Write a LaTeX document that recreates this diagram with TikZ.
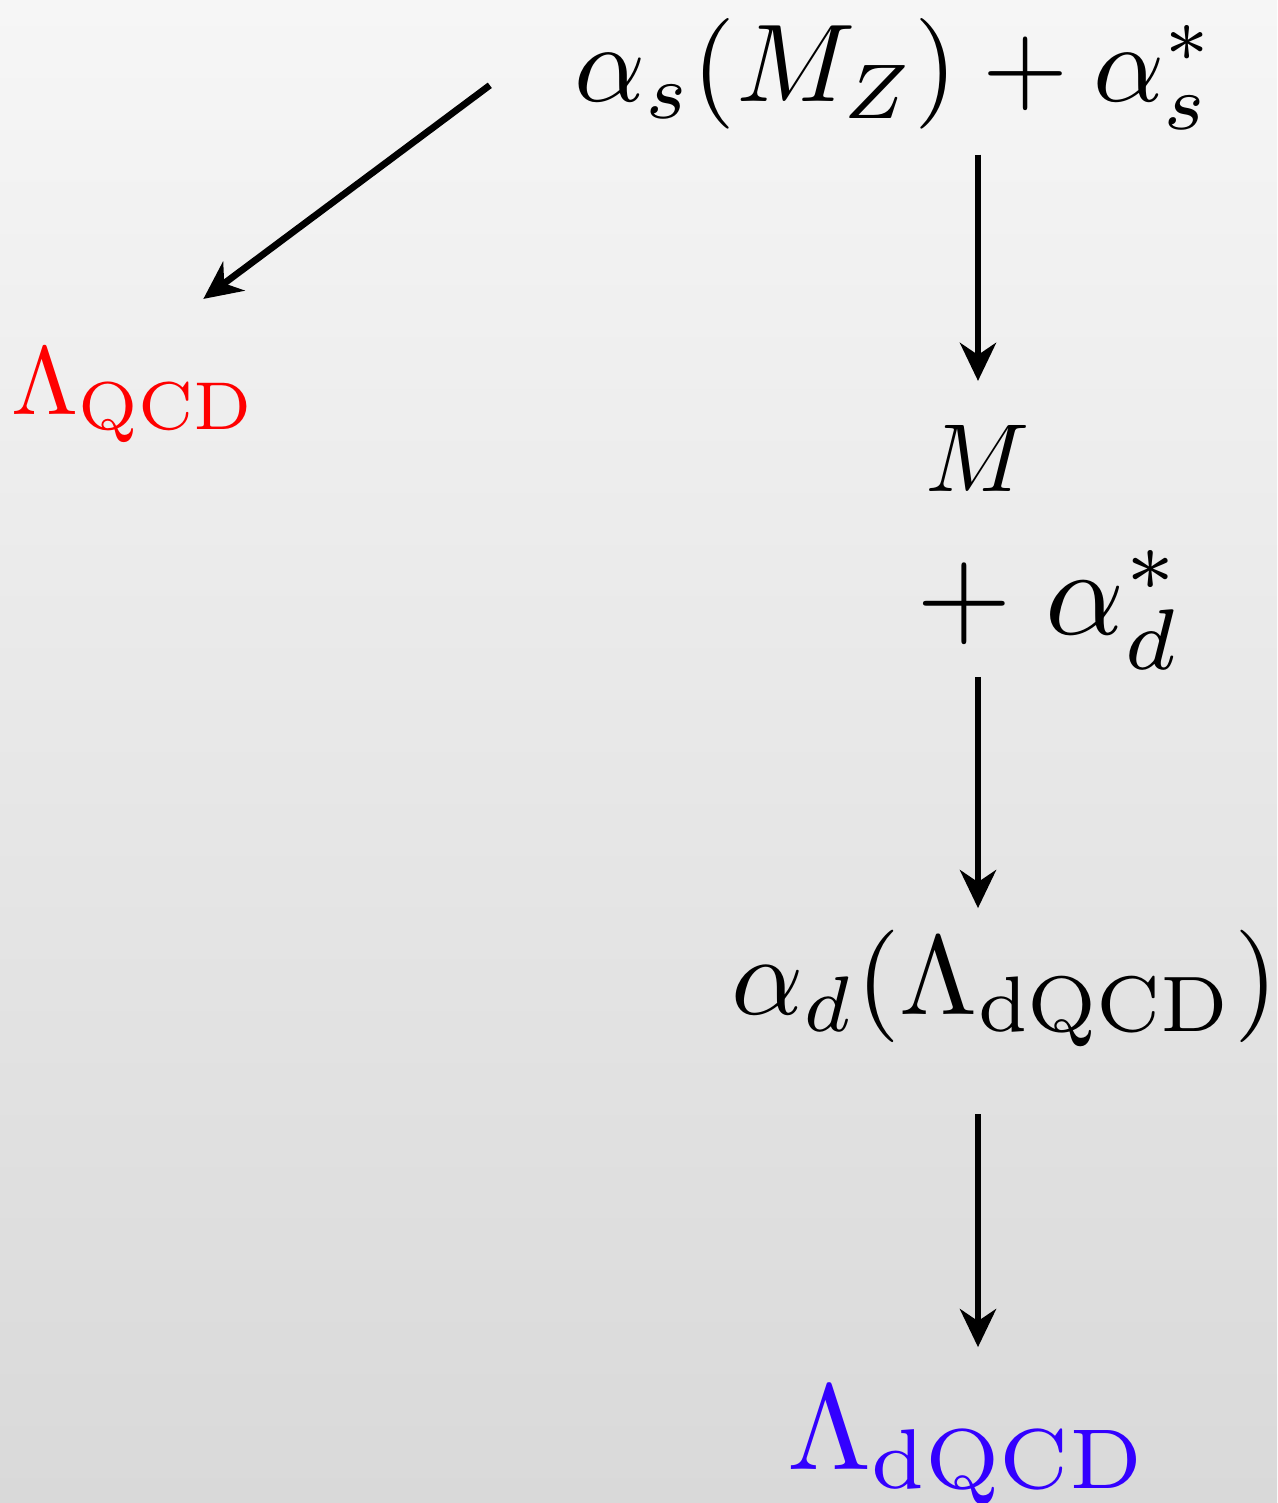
\documentclass[tikz,border=0pt]{standalone}
\usepackage{amsmath}
\usetikzlibrary{arrows.meta,calc}
\definecolor{bgtop}{HTML}{F6F6F6}
\definecolor{bgbot}{HTML}{D9D9D9}
\definecolor{qcdred}{HTML}{FF0000}
\definecolor{dqcdblue}{HTML}{3300FF}
\tikzset{
  lbl/.style={inner sep=0pt,outer sep=0pt,anchor=base},
  arr/.style={-{Stealth[length=0.76cm,width=0.72cm,inset=0.24cm]},draw=black,line width=0.135cm}
}
\begin{document}
\begin{tikzpicture}[x=1cm,y=1cm]
\shade[top color=bgtop,bottom color=bgbot] (0,0) rectangle (25.54,30.06);
\useasboundingbox (0,0) rectangle (25.54,30.06);
% quantities
\node[lbl,scale=6.3] (top) at (17.9,28.02) {$\alpha_s(M_Z)+\alpha_s^*$};
\node[lbl,scale=5.5,text=qcdred] (lqcd) at (2.68,21.76) {$\Lambda_{\mathrm{QCD}}$};
\node[lbl,scale=5.5] (m) at (19.56,20.22) {$M$};
\node[lbl,scale=7.0] (plus) at (20.98,17.36) {$+\;\alpha_d^*$};
\node[lbl,scale=6.4] (ad) at (20.1,9.76) {$\alpha_d(\Lambda_{\mathrm{dQCD}})$};
\node[lbl,scale=6.9,text=dqcdblue] (ldqcd) at (19.36,0.66) {$\Lambda_{\mathrm{dQCD}}$};
% flow
\coordinate (tail) at ([shift={(-1.7,-0.22)}]top.west);
\coordinate (tip) at ([shift={(-1.06,1.0)}]lqcd.north east);
\draw[arr] (tail) -- (tip);
\draw[arr,shorten <=0.5cm,shorten >=0.9cm] (top.south -| m) -- (m.north);
\draw[arr,shorten <=0.14cm,shorten >=0.45cm] (plus.south -| m) -- (ad.north -| m);
\draw[arr,shorten <=1.34cm,shorten >=0.8cm] (ad.south -| m) -- (ldqcd.north -| m);
\end{tikzpicture}
\end{document}
